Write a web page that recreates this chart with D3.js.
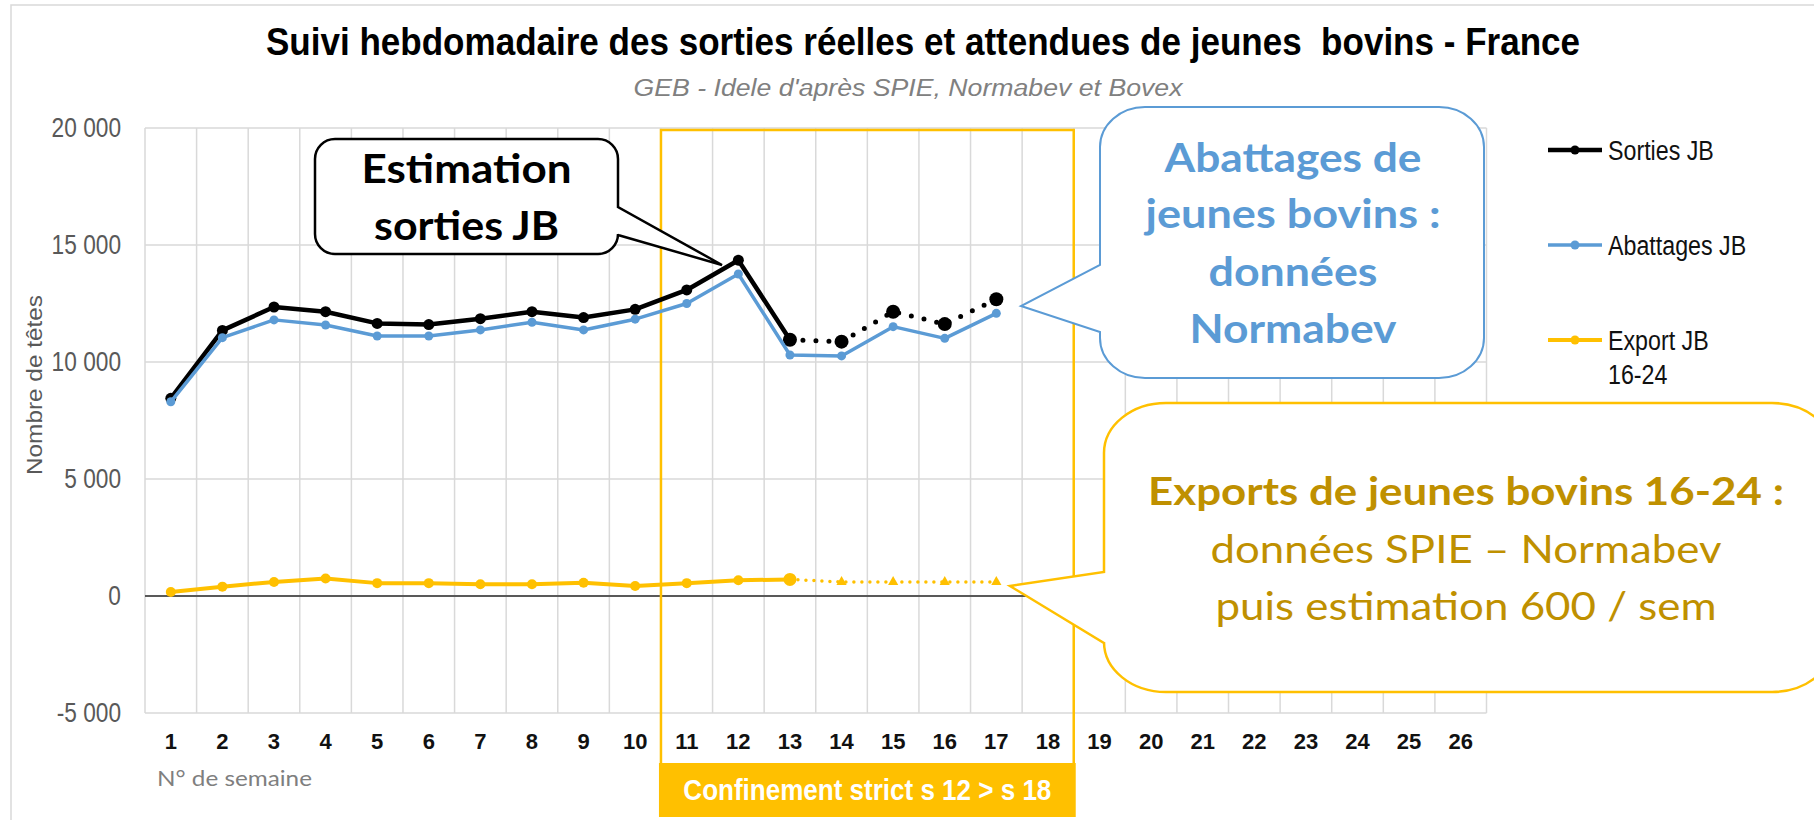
<!DOCTYPE html>
<html lang="fr">
<head>
<meta charset="UTF-8">
<script src="https://d3js.org/d3.v7.min.js"></script>
<title>Suivi hebdomadaire des sorties de jeunes bovins</title>
<style>
    body { margin: 0; background: #fff; }
    svg { display: block; }
</style>
</head>
<body>
<script>
    // Données
    var semaines = ["1", "2", "3", "4", "5", "6", "7", "8", "9", "10", "11", "12", "13",
                    "14", "15", "16", "17", "18", "19", "20", "21", "22", "23", "24", "25", "26"];
    var sortiesJB   = [8450, 11350, 12350, 12150, 11650, 11600, 11850, 12150, 11900, 12250, 13080, 14350, 10950, 10870, 12150, 11620, 12680];
    var abattagesJB = [8300, 11040, 11800, 11580, 11110, 11110, 11370, 11700, 11370, 11830, 12500, 13760, 10300, 10260, 11510, 11010, 12080];
    var exportJB    = [170, 400, 600, 750, 550, 550, 500, 500, 570, 430, 550, 670, 710, 600, 600, 600, 600];
    var derniereSemaineReelle = 13; // ensuite : estimations (pointillés)
    var yTicks = [-5000, 0, 5000, 10000, 15000, 20000];
    var legende = [["Sorties JB"], ["Abattages JB"], ["Export JB", "16-24"]];

    var width = 1814, height = 820;
    var NARROW = "'Liberation Sans', Arial, sans-serif";
    var CALIBRI = "Lato, 'Open Sans', sans-serif";

    var svg = d3.select("body").append("svg")
        .attr("width", width)
        .attr("height", height);

    svg.append("rect").attr("width", width).attr("height", height).attr("fill", "#fff");

    // cadre gris clair du graphique
    svg.append("path")
        .attr("d", "M11," + height + " V5 H" + width)
        .attr("fill", "none").attr("stroke", "#d9d9d9").attr("stroke-width", 1.5);

    var x = d3.scaleBand().domain(semaines).range([145, 1486.5]);
    var y = d3.scaleLinear().domain([-5000, 20000]).range([713, 128]);
    var bw = x.bandwidth();
    var cx = function (s) { return x(s) + bw / 2; };

    var fr = d3.formatLocale({ decimal: ",", thousands: " ", grouping: [3], currency: ["", " €"], minus: "-" });
    var fmt = fr.format(",d");

    // texte compressé (façon Arial Narrow)
    function narrow(sel, k) {
        sel.each(function () {
            var w = this.getComputedTextLength();
            d3.select(this).attr("textLength", w * k).attr("lengthAdjust", "spacingAndGlyphs");
        });
    }
    function fit(sel, len) {
        sel.attr("textLength", len).attr("lengthAdjust", "spacingAndGlyphs");
    }

    // Titre
    svg.append("text")
        .attr("x", 923).attr("y", 55)
        .attr("text-anchor", "middle")
        .style("font-family", NARROW).style("font-weight", "bold").style("font-size", "38px")
        .attr("xml:space", "preserve")
        .text("Suivi hebdomadaire des sorties réelles et attendues de jeunes  bovins - France")
        .call(fit, 1314);

    svg.append("text")
        .attr("x", 908).attr("y", 96)
        .attr("text-anchor", "middle")
        .style("font-family", NARROW).style("font-style", "italic").style("font-size", "23px")
        .attr("fill", "#808080")
        .text("GEB - Idele d'après SPIE, Normabev et Bovex")
        .call(fit, 549);

    // Grille
    var grid = svg.append("g");
    grid.selectAll("line.h")
        .data(yTicks.filter(function (d) { return d !== 0; }))
        .join("line").attr("class", "h")
        .attr("x1", x.range()[0]).attr("x2", x.range()[1])
        .attr("y1", function (d) { return y(d); }).attr("y2", function (d) { return y(d); })
        .attr("stroke", "#d9d9d9").attr("stroke-width", 1.5);

    var limites = semaines.map(function (s) { return x(s); }).concat([x.range()[1]]);
    grid.selectAll("line.v")
        .data(limites)
        .join("line").attr("class", "v")
        .attr("x1", function (d) { return d; }).attr("x2", function (d) { return d; })
        .attr("y1", y(20000)).attr("y2", y(-5000))
        .attr("stroke", "#d9d9d9").attr("stroke-width", 1.5);

    // Axe Y
    var yAxis = svg.append("g")
        .attr("transform", "translate(" + x.range()[0] + ",0)")
        .call(d3.axisLeft(y).tickValues(yTicks).tickFormat(fmt).tickSize(0).tickPadding(24));
    yAxis.select(".domain").remove();
    yAxis.selectAll("text")
        .style("font-family", NARROW).style("font-size", "27px").attr("fill", "#595959")
        .call(narrow, 0.84);

    svg.append("text")
        .attr("transform", "translate(42,385) rotate(-90)")
        .attr("text-anchor", "middle")
        .style("font-family", NARROW).style("font-size", "22px").attr("fill", "#595959")
        .text("Nombre de têtes")
        .call(fit, 180);

    // Axe X
    var xAxis = svg.append("g")
        .attr("transform", "translate(0," + y(-5000) + ")")
        .call(d3.axisBottom(x).tickSize(0));
    xAxis.select(".domain").remove();
    xAxis.selectAll("text")
        .attr("y", 36).attr("dy", null)
        .style("font-family", NARROW).style("font-weight", "bold").style("font-size", "22px")
        .attr("fill", "#111");

    svg.append("text")
        .attr("x", 157).attr("y", 786)
        .style("font-family", CALIBRI).style("font-size", "22px").attr("fill", "#7f7f7f")
        .text("N° de semaine")
        .call(fit, 155);

    // Ligne du zéro
    svg.append("line")
        .attr("x1", x.range()[0]).attr("x2", x.range()[1])
        .attr("y1", y(0)).attr("y2", y(0))
        .attr("stroke", "#595959").attr("stroke-width", 2);

    // Période de confinement
    var cg = x("11"), cd = x("18") + bw;
    svg.append("path")
        .attr("d", "M" + cg + ",763 V" + (y(20000) + 2) + " H" + cd + " V763")
        .attr("fill", "none").attr("stroke", "#ffc000").attr("stroke-width", 2.5);
    svg.append("rect")
        .attr("x", cg - 2).attr("y", 763).attr("width", cd - cg + 4).attr("height", 54)
        .attr("fill", "#ffc000");
    svg.append("text")
        .attr("x", (cg + cd) / 2).attr("y", 800)
        .attr("text-anchor", "middle")
        .style("font-family", NARROW).style("font-weight", "bold").style("font-size", "29px")
        .attr("fill", "#fff")
        .text("Confinement strict s 12 > s 18")
        .call(fit, 368);

    // Séries
    var line = d3.line()
        .x(function (d) { return cx(d.s); })
        .y(function (d) { return y(d.v); });

    function serie(values, couleur, epais, r, pointille, dash, symboleEstim) {
        var pts = values.map(function (v, i) { return { s: semaines[i], v: v }; });
        var coupe = pointille ? derniereSemaineReelle : pts.length;
        var g = svg.append("g");
        g.append("path").datum(pts.slice(0, coupe))
            .attr("d", line).attr("fill", "none")
            .attr("stroke", couleur).attr("stroke-width", epais).attr("stroke-linejoin", "round");
        if (pointille) {
            g.append("path").datum(pts.slice(coupe - 1))
                .attr("d", line).attr("fill", "none")
                .attr("stroke", couleur).attr("stroke-width", dash[0])
                .attr("stroke-linecap", "round")
                .attr("stroke-dasharray", "0 " + dash[1]);
        }
        g.selectAll("circle")
            .data(symboleEstim ? pts.slice(0, coupe) : pts)
            .join("circle")
            .attr("cx", function (d) { return cx(d.s); })
            .attr("cy", function (d) { return y(d.v); })
            .attr("r", function (d, i) { return pointille && i >= coupe - 1 ? r + 1.5 : r; })
            .attr("fill", couleur);
        if (symboleEstim) {
            g.selectAll("path.sym")
                .data(pts.slice(coupe))
                .join("path").attr("class", "sym")
                .attr("transform", function (d) { return "translate(" + cx(d.s) + "," + y(d.v) + ")"; })
                .attr("d", d3.symbol(d3.symbolTriangle, 45))
                .attr("fill", couleur);
        }
    }

    serie(sortiesJB, "#000", 4.5, 5.5, true, [5, 13], false);
    serie(abattagesJB, "#5b9bd5", 3.5, 4.5, false);
    serie(exportJB, "#ffc000", 4, 5, true, [3.5, 8], true);

    // Légende
    var legCouleurs = ["#000", "#5b9bd5", "#ffc000"];
    var legEpais = [4.5, 3.5, 4];
    var legY = [150, 245, 340];
    var lg = svg.append("g");
    legende.forEach(function (lab, i) {
        lg.append("line")
            .attr("x1", 1548).attr("x2", 1602).attr("y1", legY[i]).attr("y2", legY[i])
            .attr("stroke", legCouleurs[i]).attr("stroke-width", legEpais[i]);
        lg.append("circle").attr("cx", 1575).attr("cy", legY[i]).attr("r", 4.5).attr("fill", legCouleurs[i]);
        lab.forEach(function (t, j) {
            lg.append("text")
                .attr("x", 1608).attr("y", legY[i] + 10 + j * 34)
                .style("font-family", NARROW).style("font-size", "27px").attr("fill", "#111")
                .text(t)
                .call(narrow, 0.86);
        });
    });

    // Bulles
    function bulle(bx, by, w, h, rx, ry, cote, a, b, pointe) {
        var p = "M" + (bx + rx) + "," + by +
            " H" + (bx + w - rx) +
            " A" + rx + " " + ry + " 0 0 1 " + (bx + w) + "," + (by + ry);
        if (cote === "droite") p += " V" + a + " L" + pointe[0] + "," + pointe[1] + " L" + (bx + w) + "," + b;
        p += " V" + (by + h - ry) +
            " A" + rx + " " + ry + " 0 0 1 " + (bx + w - rx) + "," + (by + h) +
            " H" + (bx + rx) +
            " A" + rx + " " + ry + " 0 0 1 " + bx + "," + (by + h - ry);
        if (cote === "gauche") p += " V" + b + " L" + pointe[0] + "," + pointe[1] + " L" + bx + "," + a;
        p += " V" + (by + ry) +
            " A" + rx + " " + ry + " 0 0 1 " + (bx + rx) + "," + by + " Z";
        return p;
    }

    function lignes(cxT, items, couleur) {
        items.forEach(function (it) {
            svg.append("text")
                .attr("x", cxT).attr("y", it.y)
                .attr("text-anchor", "middle")
                .style("font-family", CALIBRI).style("font-size", it.size + "px")
                .style("font-weight", it.bold ? "bold" : "normal")
                .attr("fill", couleur)
                .text(it.t)
                .call(fit, it.len);
        });
    }

    svg.append("path")
        .attr("d", bulle(315, 139, 303, 115, 20, 20, "droite", 207, 235, [722, 265]))
        .attr("fill", "#fff").attr("stroke", "#000").attr("stroke-width", 2.5);
    lignes(466.5, [
        { t: "Estimation", y: 183, size: 41, bold: true, len: 210 },
        { t: "sorties JB", y: 240, size: 41, bold: true, len: 185 }
    ], "#000");

    svg.append("path")
        .attr("d", bulle(1100, 107, 384, 271, 45, 40, "gauche", 265, 332, [1021, 306]))
        .attr("fill", "#fff").attr("stroke", "#5b9bd5").attr("stroke-width", 2);
    lignes(1293, [
        { t: "Abattages de", y: 172, size: 40, bold: true, len: 257 },
        { t: "jeunes bovins :", y: 228, size: 40, bold: true, len: 295 },
        { t: "données", y: 286, size: 40, bold: true, len: 169 },
        { t: "Normabev", y: 343, size: 40, bold: true, len: 207 }
    ], "#5b9bd5");

    svg.append("path")
        .attr("d", bulle(1104, 403, 730, 289, 62, 50, "gauche", 572, 643, [1010, 586]))
        .attr("fill", "#fff").attr("stroke", "#ffc000").attr("stroke-width", 2.5);
    lignes(1466, [
        { t: "Exports de jeunes bovins 16-24 :", y: 505, size: 39, bold: true, len: 636 },
        { t: "données SPIE – Normabev", y: 563, size: 39, bold: false, len: 511 },
        { t: "puis estimation 600 / sem", y: 620, size: 39, bold: false, len: 501 }
    ], "#bf9000");
</script>
</body>
</html>
